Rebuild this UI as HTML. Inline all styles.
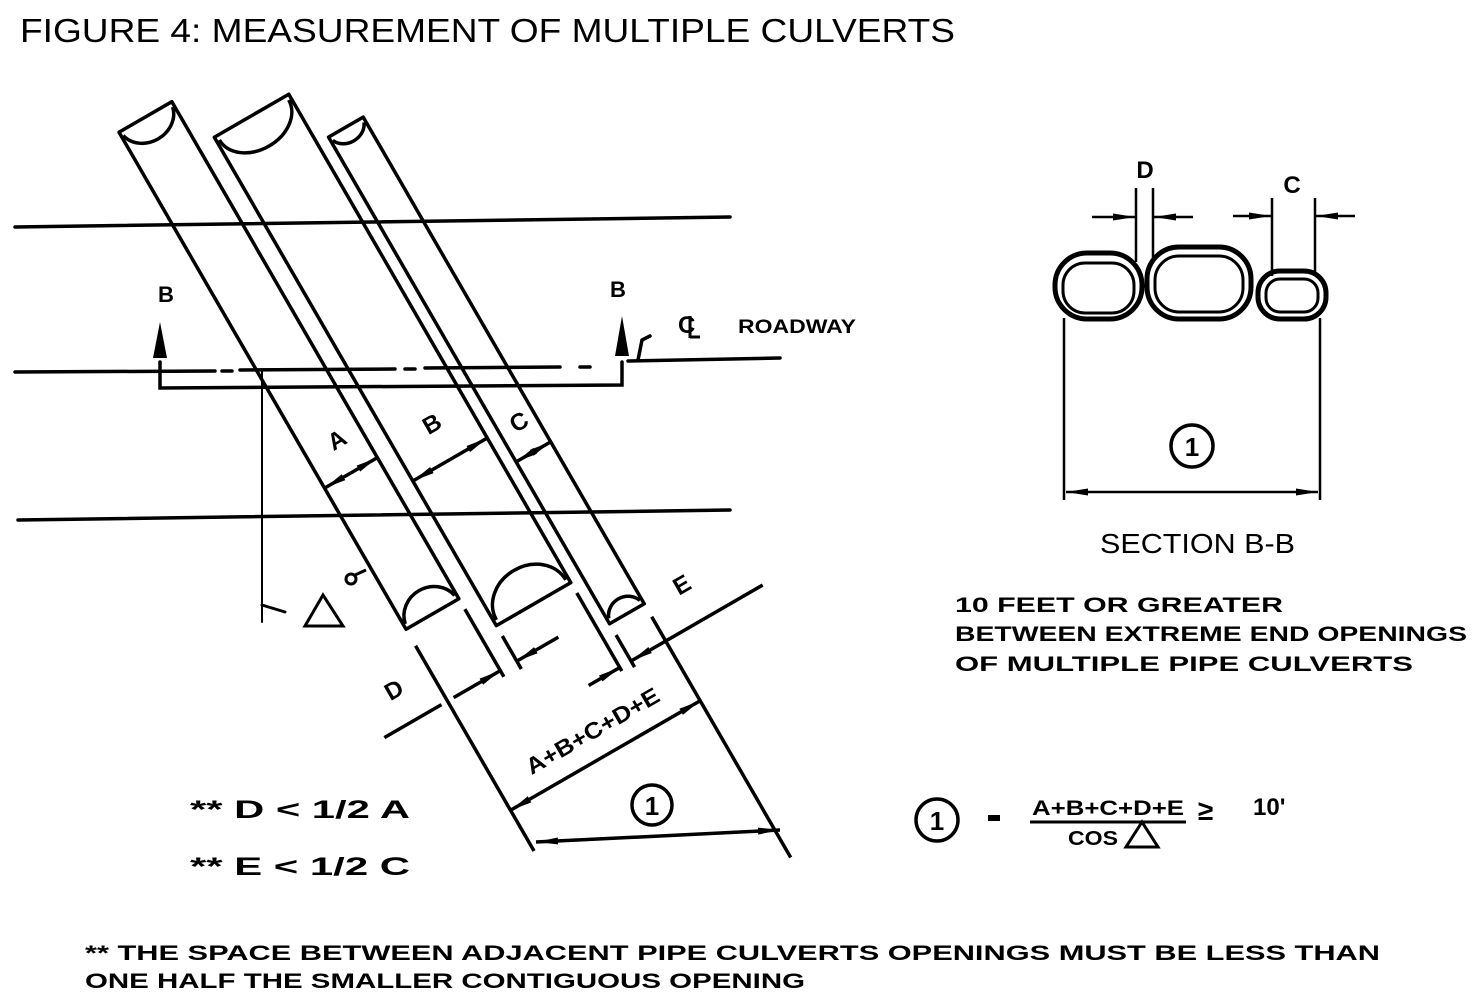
<!DOCTYPE html>
<html><head><meta charset="utf-8"><style>
html,body{margin:0;padding:0;background:#fff;}
svg{display:block;}
text{font-family:"Liberation Sans",sans-serif;fill:#000;}
.b{font-weight:bold;}
</style></head><body>
<svg width="1475" height="1004" viewBox="0 0 1475 1004" xmlns="http://www.w3.org/2000/svg">
<defs>
<marker id="ar" viewBox="0 0 22 10" refX="22" refY="5" markerWidth="22" markerHeight="10" markerUnits="userSpaceOnUse" orient="auto">
<path d="M0,1.5 L22,5 L0,8.5 Z" fill="#000"/></marker>
</defs>
<text x="20" y="42" font-size="33" textLength="935" lengthAdjust="spacingAndGlyphs">FIGURE 4: MEASUREMENT OF MULTIPLE CULVERTS</text>

<g stroke="#000" fill="none" stroke-width="3.5" stroke-linecap="round">
<line x1="15" y1="227" x2="730" y2="217"/>
<line x1="18" y1="520" x2="730" y2="510"/>
<line x1="15" y1="372" x2="215" y2="371"/>
<line x1="222" y1="371" x2="232" y2="371"/>
<line x1="240" y1="370" x2="395" y2="369"/>
<line x1="405" y1="369" x2="415" y2="369"/>
<line x1="425" y1="368" x2="560" y2="367"/>
<line x1="580" y1="367" x2="590" y2="367"/>
<line x1="628" y1="361" x2="780" y2="358"/>
<polyline points="160,362 160,388 622,385 622,362"/>
<path d="M638,360 L642,340 L650,336"/>
<line x1="262" y1="372" x2="262" y2="622" stroke-width="2"/>
<path d="M262,605 L285,612" stroke-width="3"/>
</g>
<polygon points="160,322 153,358 167,358" fill="#000"/>
<polygon points="622,316 615,356 629,356" fill="#000"/>
<text x="158" y="302" font-size="22" class="b">B</text>
<text x="610" y="297" font-size="22" class="b">B</text>
<text x="678" y="333" font-size="24" class="b">C</text>
<line x1="690" y1="316" x2="690" y2="338" stroke="#000" stroke-width="3"/>
<line x1="690" y1="337" x2="700" y2="337" stroke="#000" stroke-width="3"/>
<text x="738" y="333" font-size="19" class="b" textLength="118" lengthAdjust="spacingAndGlyphs">ROADWAY</text>
<polygon points="323,595 305,626 343,626" fill="none" stroke="#000" stroke-width="3"/>
<circle cx="351" cy="579" r="5" fill="none" stroke="#000" stroke-width="3"/>
<path d="M355,575 L366,570" stroke="#000" stroke-width="3"/>

<g transform="rotate(-30)" stroke="#000" fill="none" stroke-width="3.5" stroke-linejoin="round">
<path d="M37,174 L98,174 L98,748 L37,748 Z"/>
<path d="M39,179 A29,25 0 0 0 96,179"/>
<path d="M39,743 A29,27 0 0 1 96,743"/>
<path d="M117,226 L203,226 L203,790 L117,790 Z"/>
<path d="M120,231 A40,30 0 0 0 200,231"/>
<path d="M120,785 A40,34 0 0 1 200,785"/>
<path d="M216,283 L256,283 L256,845 L216,845 Z"/>
<path d="M218,288 A19,16 0 0 0 254,288"/>
<path d="M218,840 A19,18 0 0 1 254,840"/>
<line x1="37" y1="767" x2="37" y2="1004"/>
<line x1="98" y1="760" x2="98" y2="838"/>
<line x1="117" y1="802" x2="117" y2="840"/>
<line x1="203" y1="802" x2="203" y2="892"/>
<line x1="216" y1="858" x2="216" y2="895"/>
<line x1="256" y1="860" x2="256" y2="1138"/>
<line x1="-36" y1="831" x2="30" y2="831"/>
<line x1="44" y1="831" x2="98" y2="831" marker-end="url(#ar)"/>
<line x1="165" y1="831" x2="117" y2="831" marker-end="url(#ar)"/>
<line x1="167" y1="888" x2="203" y2="888" marker-end="url(#ar)"/>
<line x1="368" y1="888" x2="216" y2="888" marker-end="url(#ar)"/>
<line x1="146" y1="957" x2="37" y2="957" marker-end="url(#ar)"/>
<line x1="146" y1="957" x2="256" y2="957" marker-end="url(#ar)"/>
<line x1="67" y1="585" x2="37" y2="585" marker-end="url(#ar)"/>
<line x1="67" y1="585" x2="98" y2="585" marker-end="url(#ar)"/>
<line x1="160" y1="623" x2="117" y2="623" marker-end="url(#ar)"/>
<line x1="160" y1="623" x2="203" y2="623" marker-end="url(#ar)"/>
<line x1="236" y1="658" x2="216" y2="658" marker-end="url(#ar)"/>
<line x1="236" y1="658" x2="256" y2="658" marker-end="url(#ar)"/>
</g>
<text x="337" y="448" font-size="24" class="b" transform="rotate(-30 337 440)" text-anchor="middle">A</text>
<text x="432" y="432" font-size="24" class="b" transform="rotate(-30 432 424)" text-anchor="middle">B</text>
<text x="519" y="430" font-size="24" class="b" transform="rotate(-30 519 422)" text-anchor="middle">C</text>
<text x="394" y="698" font-size="24" class="b" transform="rotate(-30 394 690)" text-anchor="middle">D</text>
<text x="682" y="593" font-size="24" class="b" transform="rotate(-30 682 585)" text-anchor="middle">E</text>
<text x="592" y="739" font-size="23" class="b" transform="rotate(-30 592 730)" text-anchor="middle" textLength="150" lengthAdjust="spacingAndGlyphs">A+B+C+D+E</text>

<g stroke="#000" stroke-width="3.5" fill="none">
<line x1="660" y1="836" x2="536" y2="842" marker-end="url(#ar)"/>
<line x1="660" y1="836" x2="780" y2="830" marker-end="url(#ar)"/>
<circle cx="652" cy="805" r="20"/>
<circle cx="937" cy="820" r="21"/>
<circle cx="1192" cy="446" r="21"/>
</g>
<text x="652" y="815" font-size="26" text-anchor="middle" class="b">1</text>
<text x="937" y="830" font-size="26" text-anchor="middle" class="b">1</text>
<text x="1192" y="456" font-size="26" text-anchor="middle" class="b">1</text>

<g stroke="#000" fill="none">
<rect x="1055" y="253" width="87" height="66" rx="32" stroke-width="5"/>
<rect x="1063" y="263" width="71" height="50" rx="22" stroke-width="3"/>
<rect x="1147" y="247" width="104" height="72" rx="32" stroke-width="5"/>
<rect x="1155" y="256" width="88" height="56" rx="24" stroke-width="3"/>
<rect x="1258" y="271" width="68" height="48" rx="22" stroke-width="5"/>
<rect x="1266" y="279" width="52" height="33" rx="14" stroke-width="3"/>
<g stroke-width="2.5">
<line x1="1064" y1="318" x2="1064" y2="500"/>
<line x1="1320" y1="318" x2="1320" y2="500"/>
<line x1="1192" y1="492" x2="1066" y2="492" marker-end="url(#ar)"/>
<line x1="1192" y1="492" x2="1318" y2="492" marker-end="url(#ar)"/>
<line x1="1136" y1="188" x2="1136" y2="262"/>
<line x1="1153" y1="188" x2="1153" y2="258"/>
<line x1="1092" y1="217" x2="1135" y2="217" marker-end="url(#ar)"/>
<line x1="1193" y1="217" x2="1154" y2="217" marker-end="url(#ar)"/>
<line x1="1272" y1="198" x2="1272" y2="276"/>
<line x1="1315" y1="198" x2="1315" y2="276"/>
<line x1="1233" y1="216" x2="1271" y2="216" marker-end="url(#ar)"/>
<line x1="1355" y1="216" x2="1316" y2="216" marker-end="url(#ar)"/>
</g>
</g>
<text x="1145" y="178" font-size="24" class="b" text-anchor="middle">D</text>
<text x="1292" y="193" font-size="24" class="b" text-anchor="middle">C</text>
<text x="1100" y="553" font-size="28" textLength="195" lengthAdjust="spacingAndGlyphs">SECTION B-B</text>

<g class="b" font-size="21" font-weight="bold">
<text x="955" y="612" textLength="328" lengthAdjust="spacingAndGlyphs">10 FEET OR GREATER</text>
<text x="955" y="641" textLength="512" lengthAdjust="spacingAndGlyphs">BETWEEN EXTREME END OPENINGS</text>
<text x="955" y="671" textLength="458" lengthAdjust="spacingAndGlyphs">OF MULTIPLE PIPE CULVERTS</text>
<text x="190" y="818" font-size="25" textLength="220" lengthAdjust="spacingAndGlyphs">** D &lt; 1/2 A</text>
<text x="190" y="875" font-size="25" textLength="220" lengthAdjust="spacingAndGlyphs">** E &lt; 1/2 C</text>
<text x="85" y="960" textLength="1295" lengthAdjust="spacingAndGlyphs">** THE SPACE BETWEEN ADJACENT PIPE CULVERTS OPENINGS MUST BE LESS THAN</text>
<text x="85" y="988" textLength="720" lengthAdjust="spacingAndGlyphs">ONE HALF THE SMALLER CONTIGUOUS OPENING</text>
<text x="1032" y="815" font-size="21" textLength="152" lengthAdjust="spacingAndGlyphs">A+B+C+D+E</text>
<text x="1068" y="845" font-size="20" textLength="50" lengthAdjust="spacingAndGlyphs">COS</text>
<text x="1198" y="820" font-size="28">≥</text>
<text x="1253" y="815" font-size="24">10'</text>
</g>
<rect x="988" y="815" width="12" height="6" fill="#000"/>
<line x1="1030" y1="822" x2="1186" y2="822" stroke="#000" stroke-width="3"/>
<polygon points="1142,822 1126,847 1158,847" fill="none" stroke="#000" stroke-width="3"/>
</svg>
</body></html>
